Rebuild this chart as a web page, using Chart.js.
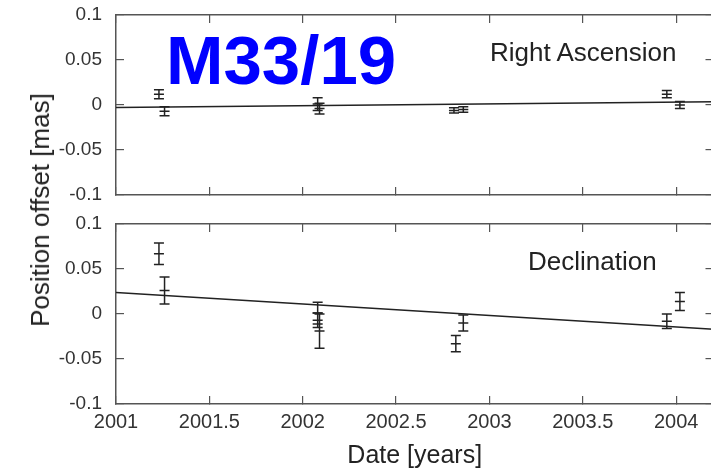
<!DOCTYPE html>
<html>
<head>
<meta charset="utf-8">
<script src="https://cdn.jsdelivr.net/npm/chart.js@4.4.1/dist/chart.umd.min.js"></script>
<style>
html, body { margin: 0; padding: 0; background: #fff; overflow: hidden; }
#wrap { position: relative; width: 711px; height: 471px; overflow: hidden; background: #fff; }
canvas { position: absolute; left: 0; top: 0; }
.txt { position: absolute; font-family: "Liberation Sans", Arial, sans-serif; line-height: 1; white-space: nowrap; color: #222; }
#title { left: 166px; top: 26px; font-size: 69px; font-weight: bold; color: #0000ff; }
#raLabel { left: 490px; top: 39px; font-size: 26px; }
#decLabel { left: 528px; top: 248px; font-size: 26px; }
#yTitle { left: 40px; top: 210px; font-size: 26px; transform: translate(-50%, -50%) rotate(-90deg); }
</style>
</head>
<body>
<div id="wrap">
  <canvas id="raChart" width="720" height="471"></canvas>
  <canvas id="decChart" width="720" height="471"></canvas>
  <div class="txt" id="title">M33/19</div>
  <div class="txt" id="raLabel">Right Ascension</div>
  <div class="txt" id="decLabel">Declination</div>
  <div class="txt" id="yTitle">Position offset [mas]</div>
</div>
<script>
// tick labels
const xTickLabels = ['2001', '2001.5', '2002', '2002.5', '2003', '2003.5', '2004'];
const yTickLabels = ['-0.1', '-0.05', '0', '0.05', '0.1'];

// Right Ascension offsets (mas)
const raDates  = [2001.23, 2001.26, 2002.08, 2002.09, 2002.81, 2002.86, 2003.95, 2004.02];
const raValues = [0.012, -0.007, 0.001, -0.004, -0.006, -0.005, 0.012, 0.000];
const raErrors = [0.005, 0.005, 0.007, 0.006, 0.003, 0.003, 0.004, 0.004];

// Declination offsets (mas)
const decDates  = [2001.23, 2001.26, 2002.08, 2002.08, 2002.09, 2002.82, 2002.86, 2003.95, 2004.02];
const decValues = [0.067, 0.026, 0.001, -0.007, -0.019, -0.033, -0.010, -0.008, 0.014];
const decErrors = [0.012, 0.015, 0.012, 0.008, 0.019, 0.009, 0.009, 0.008, 0.010];

// fitted proper motion lines
const fitDates = [2001, 2004.2];
const raFit  = [-0.0027, 0.0037];
const decFit = [0.024, -0.017];

const ink = '#222';
const frame = '#555';
Chart.defaults.font.family = '"Liberation Sans", Arial, sans-serif';

// each error bar is a short segment, broken by a null point
function errorBarPoints(dates, values, errors) {
    const pts = [];
    dates.forEach((d, i) => {
        pts.push({x: d, y: values[i] - errors[i]});
        pts.push({x: d, y: values[i] + errors[i]});
        pts.push({x: d, y: null});
    });
    return pts;
}

function makeDatasets(dates, values, errors, fit) {
    return [
        {
            data: fitDates.map((d, i) => ({x: d, y: fit[i]})),
            showLine: true, borderColor: ink, borderWidth: 1.5, pointRadius: 0
        },
        {
            data: errorBarPoints(dates, values, errors),
            showLine: true, spanGaps: false, borderColor: ink, borderWidth: 1.5,
            pointStyle: 'line', pointRadius: 5, pointBorderColor: ink, pointBorderWidth: 1.5
        },
        {
            data: dates.map((d, i) => ({x: d, y: values[i]})),
            showLine: false, pointStyle: 'line', pointRadius: 5,
            pointBorderColor: ink, pointBorderWidth: 1.5
        }
    ];
}

function makeScales(withLabels) {
    const grid = {drawOnChartArea: false, drawTicks: true, tickLength: -8, color: frame, lineWidth: 1.2};
    const border = {color: frame, width: 1.5};
    const xRange = {type: 'linear', min: 2001, max: 2004.2};
    const yRange = {type: 'linear', min: -0.1, max: 0.1};
    return {
        x: Object.assign({}, xRange, {
            position: 'bottom', border: border, grid: grid,
            ticks: {
                display: withLabels, stepSize: 0.5, includeBounds: false, autoSkip: false, maxRotation: 0,
                padding: 14, color: '#333', font: {size: 20},
                callback: (v, i) => xTickLabels[i]
            },
            title: {
                display: withLabels, text: 'Date [years]', color: ink,
                font: {size: 25}, padding: {top: 0, bottom: 0}
            },
            afterFit: s => { s.height = withLabels ? 67 : 0; }
        }),
        xTop: Object.assign({}, xRange, {
            axis: 'x', position: 'top', border: border, grid: grid,
            ticks: {display: false, stepSize: 0.5, includeBounds: false, autoSkip: false},
            afterFit: s => { s.height = 0; }
        }),
        y: Object.assign({}, yRange, {
            position: 'left', border: border, grid: grid,
            ticks: {
                stepSize: 0.05, includeBounds: false, autoSkip: false,
                padding: 22, color: '#333', font: {size: 19},
                callback: (v, i) => yTickLabels[i]
            },
            afterFit: s => { s.width = 116; s.paddingTop = 0; s.paddingBottom = 0; }
        }),
        yRight: Object.assign({}, yRange, {
            axis: 'y', position: 'right', border: border, grid: grid,
            ticks: {display: false, stepSize: 0.05, includeBounds: false},
            afterFit: s => { s.width = 0; }
        })
    };
}

function makePanel(id, datasets, padding, withLabels) {
    return new Chart(document.getElementById(id), {
        type: 'scatter',
        data: {datasets: datasets},
        options: {
            responsive: false,
            animation: false,
            devicePixelRatio: 1,
            layout: {padding: padding},
            plugins: {legend: {display: false}, tooltip: {enabled: false}},
            scales: makeScales(withLabels)
        }
    });
}

makePanel('raChart', makeDatasets(raDates, raValues, raErrors, raFit),
    {left: 0, top: 15, right: 6, bottom: 276}, false);
makePanel('decChart', makeDatasets(decDates, decValues, decErrors, decFit),
    {left: 0, top: 224, right: 6, bottom: 0}, true);
</script>
</body>
</html>
